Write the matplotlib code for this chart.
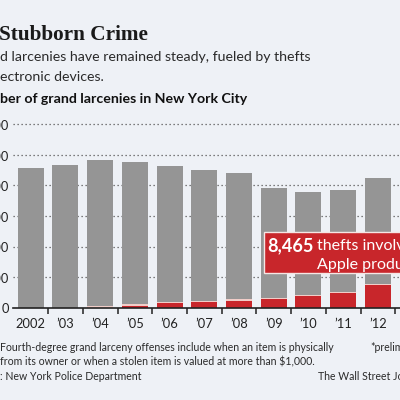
import matplotlib
matplotlib.use('Agg')
import matplotlib.pyplot as plt
from matplotlib import font_manager as fm
from matplotlib.patches import Rectangle
import numpy as np

# ---------------- data ----------------
years = ['2002', '\u201903', '\u201904', '\u201905', '\u201906', '\u201907',
         '\u201908', '\u201909', '\u201910', '\u201911', '\u201912', '\u201913']
total_larcenies = [45770, 46750, 48300, 47650, 46450, 44900,
                   44000, 39300, 37950, 38500, 42400, 45400]
apple_thefts = [0, 0, 60, 650, 1430, 1760, 2300, 2750, 3830, 4700, 7430, 8465]
y_ticks = [0, 10000, 20000, 30000, 40000, 50000, 60000]
y_tick_labels = ['0', '10,000', '20,000', '30,000', '40,000', '50,000', '60,000']

# ---------------- style ----------------
BG = '#eef1f6'
GRAY = '#959595'
RED = '#c8262b'
DIV = '#f1cdc8'
DARK = '#222222'


def pick(*names):
    for n in names:
        try:
            fm.findfont(fm.FontProperties(family=n), fallback_to_default=False)
            return n
        except Exception:
            pass
    return 'DejaVu Sans'


SANS = pick('Liberation Sans Narrow', 'Lato', 'Open Sans')
SERIF = pick('Liberation Serif', 'DejaVu Serif')

W = H = 400
fig = plt.figure(figsize=(4, 4), dpi=100, facecolor=BG)


def fx(x):
    return x / W


def fy(y):
    return 1 - y / H


renderer = fig.canvas.get_renderer()


def fit(t, target, probe=None):
    for _ in range(4):
        if probe is not None:
            p = fig.text(0, 0, probe, fontsize=t.get_fontsize(),
                         fontproperties=t.get_fontproperties())
            w = p.get_window_extent(renderer).width
            p.remove()
        else:
            w = t.get_window_extent(renderer).width
        t.set_fontsize(t.get_fontsize() * target / w)
    return t.get_fontsize()


# ---------------- axes ----------------
ax_top_px = 121.3
base_px = 307.7
ax = fig.add_axes([fx(13), fy(base_px), fx(400) - fx(13), (base_px - ax_top_px) / H])
ax.set_facecolor(BG)

x = np.arange(len(years))
total = np.array(total_larcenies, dtype=float)
apple = np.array(apple_thefts, dtype=float)
gray = total - apple

for yv in y_ticks[1:]:
    ax.axhline(yv, color='#555555', lw=0.9, ls=(0, (1, 2.2)), zorder=0.5)

ax.bar(x, apple, width=0.75, color=RED, zorder=2, linewidth=0)
ax.bar(x, gray, bottom=apple, width=0.75, color=GRAY, zorder=2, linewidth=0)
m = apple > 0
ax.bar(x[m], 450, bottom=apple[m], width=0.75, color=DIV, zorder=3, linewidth=0)

for s in ['top', 'right', 'left']:
    ax.spines[s].set_visible(False)
ax.spines['bottom'].set_color(DARK)
ax.spines['bottom'].set_linewidth(1.2)
ax.spines['bottom'].set_zorder(4)

# probe tick font size from "2002" width
probe = fig.text(0, 0, '2002', fontsize=10, family=SANS)
tick_fs = fit(probe, 30)
probe.remove()

ax.set_xticks(x[:-1] + 0.5)
ax.set_xticklabels([])
ax.tick_params(axis='x', which='major', length=4, width=1.1, color=DARK, direction='out')
ax.set_xticks(x, minor=True)
ax.set_xticklabels(years, minor=True, fontsize=tick_fs, family=SANS, color=DARK)
ax.tick_params(axis='x', which='minor', length=0, pad=7.5)

ax.set_yticks(y_ticks)
ax.set_yticklabels(y_tick_labels, fontsize=tick_fs, family=SANS, color=DARK)
ax.tick_params(axis='y', length=0, pad=3)

# limits last (setting ticks can widen them)
ax.set_ylim(0, 61000)
ax.set_xlim(-0.51, 10.636)

# ---------------- header text ----------------
t = fig.text(fx(-1), fy(40), 'Stubborn Crime', family=SERIF, weight='bold',
             fontsize=18, color='#1a1a1a', va='baseline', ha='left')
fit(t, 149)

t = fig.text(fx(0), fy(56.7), 'd larcenies have remained steady, fueled by thefts',
             family=SANS, fontsize=11, color='#2a2a2a', va='center', ha='left')
sub_fs = fit(t, 310)
fig.text(fx(0), fy(76.7), 'ectronic devices.', family=SANS, fontsize=sub_fs,
         color='#2a2a2a', va='center', ha='left')

t = fig.text(fx(0), fy(99), 'ber of grand larcenies in New York City',
             family=SANS, weight='bold', fontsize=11, color='#111111',
             va='center', ha='left')
fit(t, 247)

# ---------------- annotation box ----------------
box = Rectangle((fx(264), fy(272.7)), fx(402) - fx(264), (272.7 - 232.3) / H,
                transform=fig.transFigure, facecolor=RED, edgecolor='#f5e6e4',
                linewidth=1.0, zorder=5)
fig.add_artist(box)
t = fig.text(fx(267), fy(245.5), f'{apple_thefts[-1]:,}', family=SANS,
             weight='bold', fontsize=14, color='white', va='center', ha='left',
             zorder=6)
fit(t, 46.5)
t2 = fig.text(fx(317.3), fy(246.5), 'thefts involved', family=SANS,
              fontsize=sub_fs, color='white', va='center', ha='left', zorder=6)
fit(t2, 41.3, probe='thefts')
fig.text(fx(316.7), fy(264.5), 'Apple products', family=SANS,
         fontsize=t2.get_fontsize(), color='white', va='center', ha='left', zorder=6)

# ---------------- footer ----------------
t = fig.text(fx(-0.5), fy(347.7),
             'Fourth-degree grand larceny offenses include when an item is physically',
             family=SANS, fontsize=9, color='#2a2a2a', va='center', ha='left')
foot_fs = fit(t, 335)
fig.text(fx(-0.5), fy(361.7),
         'from its owner or when a stolen item is valued at more than $1,000.',
         family=SANS, fontsize=foot_fs, color='#2a2a2a', va='center', ha='left')
fig.text(fx(-0.5), fy(376.7), ': New York Police Department',
         family=SANS, fontsize=foot_fs, color='#2a2a2a', va='center', ha='left')
fig.text(fx(370), fy(347.7), '*preliminary', family=SANS, fontsize=foot_fs,
         color='#2a2a2a', va='center', ha='left')
fig.text(fx(318), fy(376.7), 'The Wall Street Journal', family=SANS,
         fontsize=foot_fs, color='#2a2a2a', va='center', ha='left')

fig.savefig('out.png', dpi=100, facecolor=BG)
